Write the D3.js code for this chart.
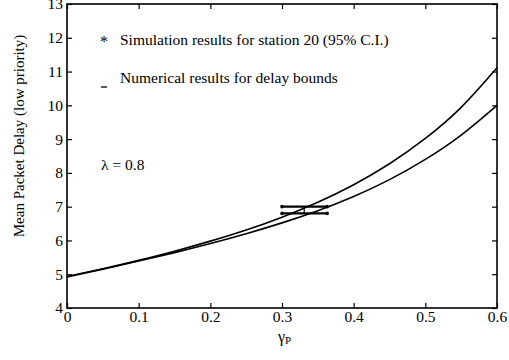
<!DOCTYPE html>
<html>
<head>
<meta charset="utf-8">
<script src="https://cdn.jsdelivr.net/npm/d3@7"></script>
<style>
  body { margin: 0; background: #fff; }
  svg text { font-family: "Liberation Serif", "DejaVu Serif", serif; fill: #000; }
</style>
</head>
<body>
<div id="chart"></div>
<script>
// values
var gammaP = [0, 0.05, 0.1, 0.15, 0.2, 0.25, 0.3, 0.35, 0.4, 0.45, 0.5, 0.55, 0.6];
var upperBound = [4.93, 5.16, 5.41, 5.68, 5.98, 6.31, 6.69, 7.13, 7.65, 8.27, 9.02, 9.94, 11.11];
var lowerBound = [4.92, 5.15, 5.39, 5.64, 5.91, 6.20, 6.52, 6.88, 7.30, 7.80, 8.40, 9.12, 10.0];

var simDelay = [7.0, 6.8];
var simGammaLo = 0.3;
var simGammaHi = 0.363;
var simGammaMid = 0.331;

var xTicks = [0, 0.1, 0.2, 0.3, 0.4, 0.5, 0.6];
var yTicks = [4, 5, 6, 7, 8, 9, 10, 11, 12, 13];

var svgSize = { width: 509, height: 360 };
var plot = { left: 67, right: 497, top: 4, bottom: 308 };

var svg = d3.select("#chart").append("svg")
    .attr("width", svgSize.width)
    .attr("height", svgSize.height);

var x = d3.scaleLinear().domain([0, 0.6]).range([plot.left, plot.right]);
var y = d3.scaleLinear().domain([4, 13]).range([plot.bottom, plot.top]);

// inward ticks on all four sides
var tickLen = 5;
svg.append("g")
    .attr("transform", "translate(0," + plot.bottom + ")")
    .call(d3.axisBottom(x).tickValues(xTicks).tickSizeInner(-tickLen).tickSizeOuter(0)
        .tickPadding(3).tickFormat(function (d) { return d === 0 ? "0" : d3.format(".1f")(d); }))
    .call(function (g) {
        g.select(".domain").remove();
        g.selectAll("line").attr("stroke-width", 1.2);
        g.selectAll("text").attr("font-size", 15.5);
    });
svg.append("g")
    .attr("transform", "translate(0," + plot.top + ")")
    .call(d3.axisTop(x).tickValues(xTicks).tickSizeInner(-tickLen).tickSizeOuter(0).tickFormat(""))
    .call(function (g) { g.select(".domain").remove(); g.selectAll("line").attr("stroke-width", 1.2); });
svg.append("g")
    .attr("transform", "translate(" + plot.left + ",0)")
    .call(d3.axisLeft(y).tickValues(yTicks).tickSizeInner(-tickLen).tickSizeOuter(0)
        .tickPadding(4).tickFormat(d3.format("d")))
    .call(function (g) {
        g.select(".domain").remove();
        g.selectAll("line").attr("stroke-width", 1.2);
        g.selectAll("text").attr("font-size", 15.5);
    });
svg.append("g")
    .attr("transform", "translate(" + plot.right + ",0)")
    .call(d3.axisRight(y).tickValues(yTicks).tickSizeInner(-tickLen).tickSizeOuter(0).tickFormat(""))
    .call(function (g) { g.select(".domain").remove(); g.selectAll("line").attr("stroke-width", 1.2); });

svg.append("rect")
    .attr("x", plot.left)
    .attr("y", plot.top)
    .attr("width", plot.right - plot.left)
    .attr("height", plot.bottom - plot.top)
    .attr("fill", "none")
    .attr("stroke", "#000")
    .attr("stroke-width", 1.6);

// numerical delay bounds
var line = d3.line()
    .x(function (d) { return x(d[0]); })
    .y(function (d) { return y(d[1]); })
    .curve(d3.curveNatural);

[upperBound, lowerBound].forEach(function (series) {
    svg.append("path")
        .datum(d3.zip(gammaP, series))
        .attr("d", line)
        .attr("fill", "none")
        .attr("stroke", "#000")
        .attr("stroke-width", 1.6);
});

// simulation confidence interval
simDelay.forEach(function (v) {
    svg.append("line")
        .attr("x1", x(simGammaLo)).attr("x2", x(simGammaHi))
        .attr("y1", y(v)).attr("y2", y(v))
        .attr("stroke", "#000").attr("stroke-width", 2.2);
    [simGammaLo, simGammaHi].forEach(function (g) {
        svg.append("circle")
            .attr("cx", x(g)).attr("cy", y(v)).attr("r", 1.8)
            .attr("fill", "#000");
    });
});
svg.append("line")
    .attr("x1", x(simGammaMid)).attr("x2", x(simGammaMid))
    .attr("y1", y(simDelay[0])).attr("y2", y(simDelay[1]))
    .attr("stroke", "#000").attr("stroke-width", 1.2);

// legend text
svg.append("text").attr("x", 100).attr("y", 47).attr("font-size", 16).text("*");
svg.append("text").attr("x", 120).attr("y", 45).attr("font-size", 15.5)
    .text("Simulation results for station 20 (95% C.I.)");
svg.append("line").attr("x1", 101).attr("x2", 107).attr("y1", 87).attr("y2", 87)
    .attr("stroke", "#000").attr("stroke-width", 1.3);
svg.append("text").attr("x", 120).attr("y", 83).attr("font-size", 15.5)
    .text("Numerical results for delay bounds");
svg.append("text").attr("x", 101).attr("y", 170).attr("font-size", 15.5)
    .text("\u03bb = 0.8");

// axis titles
svg.append("text")
    .attr("transform", "translate(24,136) rotate(-90)")
    .attr("text-anchor", "middle")
    .attr("font-size", 15)
    .text("Mean Packet Delay (low priority)");
var xl = svg.append("text")
    .attr("x", 278).attr("y", 342)
    .attr("font-size", 16);
xl.append("tspan").text("\u03b3");
xl.append("tspan").attr("font-size", 11).attr("dy", 2).text("P");
</script>
</body>
</html>
